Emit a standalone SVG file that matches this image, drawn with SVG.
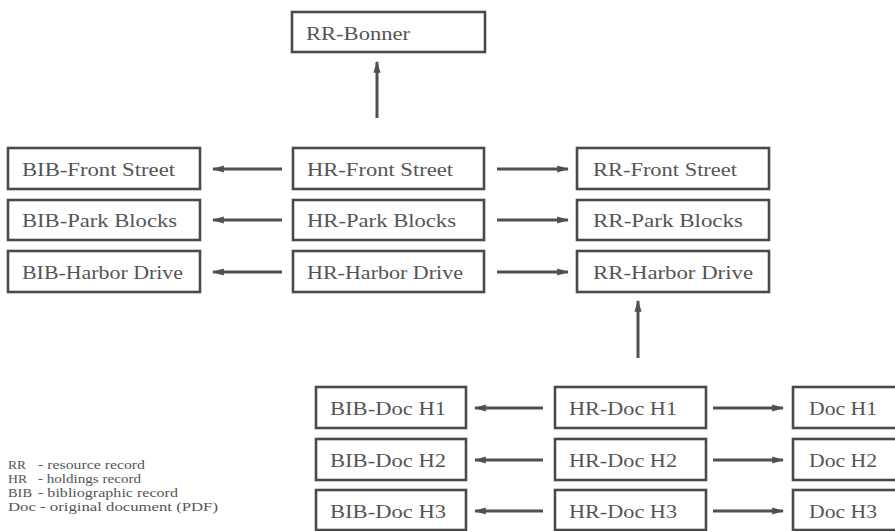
<svg xmlns="http://www.w3.org/2000/svg" width="895" height="531" viewBox="0 0 895 531">
<style>
.box rect{fill:#fff;stroke:#4a4a4a;stroke-width:2.6}
.box text{font-family:"Liberation Serif","Times New Roman",serif;font-size:19px;fill:#555}
.legend text{font-family:"Liberation Serif","Times New Roman",serif;font-size:12px;fill:#555}
.conn line{stroke:#505050;stroke-width:3;marker-end:url(#ah)}
</style>
<defs>
<marker id="ah" viewBox="0 0 10 6" refX="9" refY="3" markerWidth="4" markerHeight="2.4" orient="auto" markerUnits="strokeWidth">
<path d="M0,0 L10,3 L0,6 z" fill="#505050"/>
</marker>
</defs>
<rect width="895" height="531" fill="#fff"/>
<g id="n-rr-bonner" class="box"><rect x="292" y="12" width="193" height="40"/><text x="306" y="40" textLength="104" lengthAdjust="spacingAndGlyphs">RR-Bonner</text></g>

<g id="n-bib-front" class="box"><rect x="8" y="148" width="192" height="41"/><text x="22" y="176" textLength="153" lengthAdjust="spacingAndGlyphs">BIB-Front Street</text></g>
<g id="n-bib-park" class="box"><rect x="8" y="200" width="192" height="40"/><text x="22" y="227" textLength="155" lengthAdjust="spacingAndGlyphs">BIB-Park Blocks</text></g>
<g id="n-bib-harbor" class="box"><rect x="8" y="251" width="192" height="41"/><text x="22" y="279" textLength="161" lengthAdjust="spacingAndGlyphs">BIB-Harbor Drive</text></g>

<g id="n-hr-front" class="box"><rect x="293" y="148" width="191" height="41"/><text x="307" y="176" textLength="146" lengthAdjust="spacingAndGlyphs">HR-Front Street</text></g>
<g id="n-hr-park" class="box"><rect x="293" y="200" width="191" height="40"/><text x="307" y="227" textLength="149" lengthAdjust="spacingAndGlyphs">HR-Park Blocks</text></g>
<g id="n-hr-harbor" class="box"><rect x="293" y="251" width="191" height="41"/><text x="307" y="279" textLength="156" lengthAdjust="spacingAndGlyphs">HR-Harbor Drive</text></g>

<g id="n-rr-front" class="box"><rect x="577" y="148" width="192" height="41"/><text x="593" y="176" textLength="144" lengthAdjust="spacingAndGlyphs">RR-Front Street</text></g>
<g id="n-rr-park" class="box"><rect x="577" y="200" width="192" height="40"/><text x="593" y="227" textLength="150" lengthAdjust="spacingAndGlyphs">RR-Park Blocks</text></g>
<g id="n-rr-harbor" class="box"><rect x="577" y="251" width="192" height="41"/><text x="593" y="279" textLength="160" lengthAdjust="spacingAndGlyphs">RR-Harbor Drive</text></g>

<g id="n-bib-doc1" class="box"><rect x="316" y="387" width="150" height="41"/><text x="330" y="415" textLength="116" lengthAdjust="spacingAndGlyphs">BIB-Doc H1</text></g>
<g id="n-bib-doc2" class="box"><rect x="316" y="439" width="150" height="41"/><text x="330" y="467" textLength="116" lengthAdjust="spacingAndGlyphs">BIB-Doc H2</text></g>
<g id="n-bib-doc3" class="box"><rect x="316" y="490" width="150" height="40"/><text x="330" y="518" textLength="116" lengthAdjust="spacingAndGlyphs">BIB-Doc H3</text></g>

<g id="n-hr-doc1" class="box"><rect x="555" y="387" width="151" height="41"/><text x="569" y="415" textLength="108" lengthAdjust="spacingAndGlyphs">HR-Doc H1</text></g>
<g id="n-hr-doc2" class="box"><rect x="555" y="439" width="151" height="41"/><text x="569" y="467" textLength="108" lengthAdjust="spacingAndGlyphs">HR-Doc H2</text></g>
<g id="n-hr-doc3" class="box"><rect x="555" y="490" width="151" height="40"/><text x="569" y="518" textLength="108" lengthAdjust="spacingAndGlyphs">HR-Doc H3</text></g>

<g id="n-doc1" class="box"><rect x="793" y="387" width="120" height="41"/><text x="809" y="415" textLength="68" lengthAdjust="spacingAndGlyphs">Doc H1</text></g>
<g id="n-doc2" class="box"><rect x="793" y="439" width="120" height="41"/><text x="809" y="467" textLength="68" lengthAdjust="spacingAndGlyphs">Doc H2</text></g>
<g id="n-doc3" class="box"><rect x="793" y="490" width="120" height="40"/><text x="809" y="518" textLength="68" lengthAdjust="spacingAndGlyphs">Doc H3</text></g>

<g id="connectors" class="conn">
<line x1="377" y1="118" x2="377" y2="62"/>
<line x1="282" y1="169" x2="213" y2="169"/>
<line x1="282" y1="220" x2="213" y2="220"/>
<line x1="282" y1="272" x2="213" y2="272"/>
<line x1="497" y1="169" x2="568" y2="169"/>
<line x1="497" y1="220" x2="568" y2="220"/>
<line x1="497" y1="272" x2="568" y2="272"/>
<line x1="638" y1="358" x2="638" y2="301"/>
<line x1="543" y1="408" x2="475" y2="408"/>
<line x1="543" y1="460" x2="475" y2="460"/>
<line x1="543" y1="511" x2="475" y2="511"/>
<line x1="713" y1="408" x2="783" y2="408"/>
<line x1="713" y1="460" x2="783" y2="460"/>
<line x1="713" y1="511" x2="783" y2="511"/>
</g>

<g id="legend" class="legend">
<text x="8" y="469" textLength="18" lengthAdjust="spacingAndGlyphs">RR</text><text x="38" y="469" textLength="107" lengthAdjust="spacingAndGlyphs">- resource record</text>
<text x="8" y="483" textLength="19" lengthAdjust="spacingAndGlyphs">HR</text><text x="38" y="483" textLength="103" lengthAdjust="spacingAndGlyphs">- holdings record</text>
<text x="8" y="497" textLength="24" lengthAdjust="spacingAndGlyphs">BIB</text><text x="38" y="497" textLength="140" lengthAdjust="spacingAndGlyphs">- bibliographic record</text>
<text x="8" y="511" textLength="210" lengthAdjust="spacingAndGlyphs">Doc - original document (PDF)</text>
</g>
</svg>
